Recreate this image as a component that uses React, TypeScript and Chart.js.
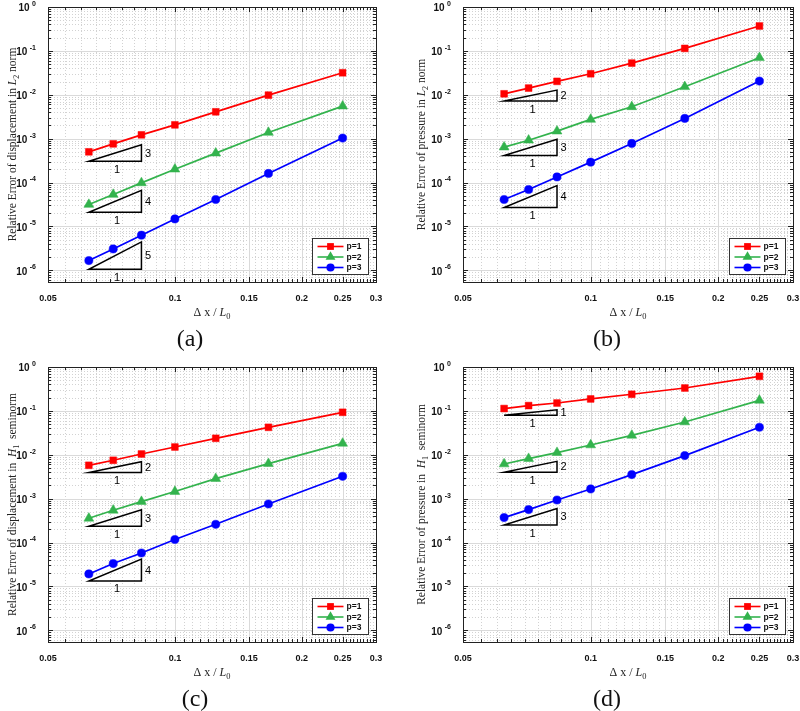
import React, { useEffect, useRef } from "react";
import { Chart, registerables } from "chart.js";

Chart.register(...registerables);

// ---------- data ----------
const xValues = [0.0625, 0.0714, 0.0833, 0.1, 0.125, 0.1667, 0.25];
const seriesNames = ["p=1", "p=2", "p=3"];

const aP1 = [5.0e-4, 7.6e-4, 1.22e-3, 2.06e-3, 4.08e-3, 9.8e-3, 3.17e-2];
const aP2 = [3.15e-5, 5.33e-5, 9.8e-5, 2.01e-4, 4.67e-4, 1.38e-3, 5.51e-3];
const aP3 = [1.66e-6, 3.06e-6, 6.29e-6, 1.48e-5, 4.1e-5, 1.61e-4, 1.03e-3];

const bP1 = [1.05e-2, 1.42e-2, 2.02e-2, 3.01e-2, 5.27e-2, 0.114, 0.369];
const bP2 = [6.4e-4, 9.2e-4, 1.48e-3, 2.74e-3, 5.31e-3, 1.52e-2, 6.97e-2];
const bP3 = [4.1e-5, 6.93e-5, 1.34e-4, 2.91e-4, 7.76e-4, 2.89e-3, 2.05e-2];

const cP1 = [5.75e-3, 7.48e-3, 1.04e-2, 1.5e-2, 2.37e-2, 4.22e-2, 9.28e-2];
const cP2 = [3.56e-4, 5.42e-4, 8.57e-4, 1.45e-3, 2.86e-3, 6.29e-3, 1.82e-2];
const cP3 = [1.92e-5, 3.31e-5, 5.77e-5, 1.17e-4, 2.6e-4, 7.55e-4, 3.23e-3];

const dP1 = [0.113, 0.132, 0.151, 0.187, 0.239, 0.332, 0.614];
const dP2 = [6.15e-3, 8.17e-3, 1.12e-2, 1.67e-2, 2.77e-2, 5.58e-2, 0.174];
const dP3 = [3.7e-4, 5.62e-4, 9.31e-4, 1.66e-3, 3.53e-3, 9.57e-3, 4.23e-2];

// slope triangles
const triX = [0.0625, 0.0833];
const aSlopes = [3, 4, 5];
const aTriBase = [3.06e-4, 2.1e-5, 1.05e-6];
const bSlopes = [2, 3, 4];
const bTriBase = [7.2e-3, 4.1e-4, 2.7e-5];
const cSlopes = [2, 3, 4];
const cTriBase = [3.92e-3, 2.34e-4, 1.33e-5];
const dSlopes = [1, 2, 3];
const dTriBase = [7.93e-2, 3.98e-3, 2.51e-4];

// axes
const xMin = 0.05;
const xMax = 0.3;
const yMin = 5.4e-7;
const yMax = 1;
const xMajorTicks = [0.05, 0.1, 0.15, 0.2, 0.25, 0.3];
const xTickLabels = ["0.05", "0.1", "0.15", "0.2", "0.25", "0.3"];
const yTickExponents = [0, -1, -2, -3, -4, -5, -6];
const panelLetters = ["(a)", "(b)", "(c)", "(d)"];

type Seg = { t: string; s?: "i" | "sub" };
const yTitleA: Seg[] = [{ t: "Relative Error of displacement in " }, { t: "L", s: "i" }, { t: "2", s: "sub" }, { t: " norm" }];
const yTitleB: Seg[] = [{ t: "Relative Error of pressure in " }, { t: "L", s: "i" }, { t: "2", s: "sub" }, { t: " norm" }];
const yTitleC: Seg[] = [{ t: "Relative Error of displacement in  " }, { t: "H", s: "i" }, { t: "1", s: "sub" }, { t: "  seminorm" }];
const yTitleD: Seg[] = [{ t: "Relative Error of pressure in  " }, { t: "H", s: "i" }, { t: "1", s: "sub" }, { t: "  seminorm" }];
const xTitle: Seg[] = [{ t: "\u0394 x / " }, { t: "L", s: "i" }, { t: "0", s: "sub" }];

// ---------- style ----------
const colors = ["#ff0000", "#33b34d", "#0000ff"];
const pointStyles = ["rect", "triangle", "circle"];
const pointRadii = [4.8, 5.7, 4.1];
const SERIF = "'Liberation Serif', 'Times New Roman', serif";
const SANS = "'Liberation Sans', Arial, sans-serif";

const panels = [
  { left: 0, top: 0, w: 400, h: 355, pad: { left: 48, right: 24, top: 7, bottom: 73 }, series: [aP1, aP2, aP3], slopes: aSlopes, triBase: aTriBase, yTitle: yTitleA, letter: panelLetters[0], letterX: 190, yTitleX: 12 },
  { left: 400, top: 0, w: 400, h: 355, pad: { left: 63, right: 7, top: 7, bottom: 73 }, series: [bP1, bP2, bP3], slopes: bSlopes, triBase: bTriBase, yTitle: yTitleB, letter: panelLetters[1], letterX: 207, yTitleX: 21 },
  { left: 0, top: 355, w: 400, h: 356, pad: { left: 48, right: 24, top: 12, bottom: 69 }, series: [cP1, cP2, cP3], slopes: cSlopes, triBase: cTriBase, yTitle: yTitleC, letter: panelLetters[2], letterX: 195, yTitleX: 12 },
  { left: 400, top: 355, w: 400, h: 356, pad: { left: 63, right: 7, top: 12, bottom: 69 }, series: [dP1, dP2, dP3], slopes: dSlopes, triBase: dTriBase, yTitle: yTitleD, letter: panelLetters[3], letterX: 207, yTitleX: 21 },
];

function drawRich(ctx: CanvasRenderingContext2D, segs: Seg[], cx: number, baseline: number, size: number) {
  const fontFor = (s: Seg) =>
    s.s === "i" ? `italic ${size}px ${SERIF}` : s.s === "sub" ? `${(size * 0.7).toFixed(1)}px ${SERIF}` : `${size}px ${SERIF}`;
  const widths = segs.map((s) => {
    ctx.font = fontFor(s);
    return ctx.measureText(s.t).width;
  });
  const total = widths.reduce((a, b) => a + b, 0);
  let x = cx - total / 2;
  ctx.textAlign = "left";
  ctx.textBaseline = "alphabetic";
  segs.forEach((s, i) => {
    ctx.font = fontFor(s);
    ctx.fillText(s.t, x, baseline + (s.s === "sub" ? size * 0.22 : 0));
    x += widths[i];
  });
}

function drawMarker(ctx: CanvasRenderingContext2D, style: string, x: number, y: number, r: number) {
  ctx.beginPath();
  if (style === "rect") {
    const s = Math.SQRT1_2 * r;
    ctx.rect(x - s, y - s, 2 * s, 2 * s);
  } else if (style === "triangle") {
    let rad = 0;
    ctx.moveTo(x + Math.sin(rad) * r, y - Math.cos(rad) * r);
    rad += (2 * Math.PI) / 3;
    ctx.lineTo(x + Math.sin(rad) * r, y - Math.cos(rad) * r);
    rad += (2 * Math.PI) / 3;
    ctx.lineTo(x + Math.sin(rad) * r, y - Math.cos(rad) * r);
    ctx.closePath();
  } else {
    ctx.arc(x, y, r, 0, Math.PI * 2);
  }
  ctx.fill();
}

function minorX(): number[] {
  const out: number[] = [];
  for (let k = 10; k <= 60; k++) if (k % 10 !== 0) out.push(k / 200);
  return out;
}
function minorY(): number[] {
  const out: number[] = [];
  for (let e = -7; e <= 0; e++)
    for (let m = 2; m <= 9; m++) {
      const v = m * Math.pow(10, e);
      if (v >= yMin && v <= yMax) out.push(v);
    }
  return out;
}

function makeDecor(p: any) {
  return {
    id: "decor",
    beforeDatasetsDraw(chart: any) {
      const { ctx, chartArea: ca } = chart;
      const xs = chart.scales.x;
      const ys = chart.scales.y;
      ctx.save();
      ctx.lineWidth = 1;
      ctx.strokeStyle = "#d2d2d2";
      ctx.setLineDash([1, 2]);
      ctx.beginPath();
      for (const v of minorX()) {
        const px = Math.round(xs.getPixelForValue(v)) + 0.5;
        ctx.moveTo(px, ca.top);
        ctx.lineTo(px, ca.bottom);
      }
      for (const v of minorY()) {
        const py = Math.round(ys.getPixelForValue(v)) + 0.5;
        ctx.moveTo(ca.left, py);
        ctx.lineTo(ca.right, py);
      }
      ctx.stroke();
      ctx.setLineDash([]);
      ctx.strokeStyle = "#dadada";
      ctx.beginPath();
      for (const v of xMajorTicks) {
        const px = Math.round(xs.getPixelForValue(v)) + 0.5;
        ctx.moveTo(px, ca.top);
        ctx.lineTo(px, ca.bottom);
      }
      for (const e of yTickExponents) {
        const py = Math.round(ys.getPixelForValue(Math.pow(10, e))) + 0.5;
        ctx.moveTo(ca.left, py);
        ctx.lineTo(ca.right, py);
      }
      ctx.stroke();
      ctx.restore();
    },
    afterDatasetsDraw(chart: any) {
      const { ctx, chartArea: ca } = chart;
      const xs = chart.scales.x;
      const ys = chart.scales.y;
      ctx.save();

      // slope triangles
      const x1 = xs.getPixelForValue(triX[0]);
      const x2 = xs.getPixelForValue(triX[1]);
      p.slopes.forEach((s: number, i: number) => {
        const base = p.triBase[i];
        const topV = base * Math.pow(triX[1] / triX[0], s);
        const yb = ys.getPixelForValue(base);
        const yt = ys.getPixelForValue(topV);
        ctx.strokeStyle = "#000";
        ctx.lineWidth = 1.5;
        ctx.beginPath();
        ctx.moveTo(x1, yb);
        ctx.lineTo(x2, yb);
        ctx.lineTo(x2, yt);
        ctx.closePath();
        ctx.stroke();
        ctx.fillStyle = "#000";
        ctx.font = `11px ${SANS}`;
        ctx.textAlign = "left";
        ctx.textBaseline = "middle";
        ctx.fillText(String(s), x2 + 3.5, (yb + yt) / 2 + 0.5);
        ctx.textAlign = "center";
        ctx.textBaseline = "top";
        ctx.fillText("1", (x1 + x2) / 2 + 2, yb + 3);
      });

      // axes box
      ctx.strokeStyle = "#222";
      ctx.lineWidth = 1;
      ctx.strokeRect(Math.round(ca.left) + 0.5, Math.round(ca.top) + 0.5, Math.round(ca.right - ca.left), Math.round(ca.bottom - ca.top));

      // ticks
      ctx.beginPath();
      const xt = (v: number, len: number) => {
        const px = Math.round(xs.getPixelForValue(v)) + 0.5;
        ctx.moveTo(px, ca.bottom);
        ctx.lineTo(px, ca.bottom - len);
        ctx.moveTo(px, ca.top);
        ctx.lineTo(px, ca.top + len);
      };
      const yt = (v: number, len: number) => {
        const py = Math.round(ys.getPixelForValue(v)) + 0.5;
        ctx.moveTo(ca.left, py);
        ctx.lineTo(ca.left + len, py);
        ctx.moveTo(ca.right, py);
        ctx.lineTo(ca.right - len, py);
      };
      minorX().forEach((v) => xt(v, 3));
      xMajorTicks.forEach((v) => xt(v, 5));
      minorY().forEach((v) => yt(v, 3));
      yTickExponents.forEach((e) => yt(Math.pow(10, e), 5));
      ctx.stroke();

      // x tick labels
      ctx.fillStyle = "#111";
      ctx.font = `bold 9px ${SANS}`;
      ctx.textAlign = "center";
      ctx.textBaseline = "middle";
      xMajorTicks.forEach((v, i) => {
        ctx.fillText(xTickLabels[i], xs.getPixelForValue(v), ca.bottom + 17);
      });

      // y tick labels
      yTickExponents.forEach((e) => {
        const py = ys.getPixelForValue(Math.pow(10, e));
        const right = ca.left - 12;
        ctx.font = `bold 7px ${SANS}`;
        const expStr = String(e);
        const ew = ctx.measureText(expStr).width;
        ctx.textAlign = "left";
        ctx.textBaseline = "middle";
        ctx.fillText(expStr, right - ew, py - 3);
        ctx.font = `bold 10px ${SANS}`;
        ctx.textAlign = "right";
        ctx.fillText("10", right - ew - 2.5, py + 1.5);
      });

      // titles
      ctx.fillStyle = "#222";
      drawRich(ctx, xTitle, (ca.left + ca.right) / 2, ca.bottom + 34, 12);
      ctx.save();
      ctx.translate(p.yTitleX, (ca.top + ca.bottom) / 2);
      ctx.rotate(-Math.PI / 2);
      drawRich(ctx, p.yTitle, 0, 4, 11.5);
      ctx.restore();

      // panel letter
      ctx.fillStyle = "#111";
      ctx.font = `24px ${SERIF}`;
      ctx.textAlign = "center";
      ctx.textBaseline = "middle";
      ctx.fillText(p.letter, p.letterX, ca.bottom + 58);

      // legend
      const bw = 56;
      const bh = 36;
      const bx = Math.round(ca.right - 8 - bw) + 0.5;
      const by = Math.round(ca.bottom - 8 - bh) + 0.5;
      ctx.fillStyle = "#fff";
      ctx.fillRect(bx, by, bw, bh);
      ctx.strokeStyle = "#333";
      ctx.lineWidth = 1;
      ctx.strokeRect(bx, by, bw, bh);
      seriesNames.forEach((name, i) => {
        const ly = by + 8 + i * 10.5;
        ctx.strokeStyle = colors[i];
        ctx.lineWidth = 1.6;
        ctx.beginPath();
        ctx.moveTo(bx + 5, ly);
        ctx.lineTo(bx + 31, ly);
        ctx.stroke();
        ctx.fillStyle = colors[i];
        drawMarker(ctx, pointStyles[i], bx + 18, ly, pointRadii[i]);
        ctx.fillStyle = "#111";
        ctx.font = `bold 8.5px ${SANS}`;
        ctx.textAlign = "left";
        ctx.textBaseline = "middle";
        ctx.fillText(name, bx + 34, ly + 0.5);
      });

      ctx.restore();
    },
  };
}

function Panel({ p }: { p: any }) {
  const ref = useRef<HTMLCanvasElement>(null);
  useEffect(() => {
    const chart = new Chart(ref.current as HTMLCanvasElement, {
      type: "line",
      data: {
        datasets: p.series.map((vals: number[], i: number) => ({
          label: seriesNames[i],
          data: xValues.map((x, j) => ({ x, y: vals[j] })),
          borderColor: colors[i],
          backgroundColor: colors[i],
          pointBackgroundColor: colors[i],
          pointBorderColor: colors[i],
          pointStyle: pointStyles[i],
          pointRadius: pointRadii[i],
          pointBorderWidth: 0.5,
          borderWidth: 1.7,
          tension: 0,
        })),
      },
      options: {
        responsive: false,
        animation: false,
        devicePixelRatio: 1,
        events: [],
        layout: { padding: p.pad },
        scales: {
          x: { type: "logarithmic", min: xMin, max: xMax, display: false },
          y: { type: "logarithmic", min: yMin, max: yMax, display: false },
        },
        plugins: { legend: { display: false }, tooltip: { enabled: false } },
      } as any,
      plugins: [makeDecor(p)],
    });
    return () => chart.destroy();
  }, []);
  return (
    <canvas
      ref={ref}
      width={p.w}
      height={p.h}
      style={{ position: "absolute", left: p.left, top: p.top, width: p.w, height: p.h, display: "block" }}
    />
  );
}

export default function App() {
  return (
    <div style={{ position: "absolute", left: 0, top: 0, width: 800, height: 711, background: "#fff", overflow: "hidden" }}>
      {panels.map((p, i) => (
        <Panel key={i} p={p} />
      ))}
    </div>
  );
}
